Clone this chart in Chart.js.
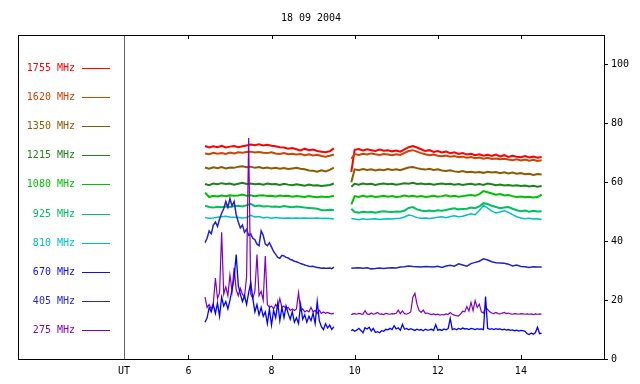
<!doctype html>
<html lang="en">
<head>
<meta charset="utf-8">
<style>
  * { margin: 0; padding: 0; }
  body { background: #fff; }
  .chartBox { width: 640px; height: 384px; }
</style>
</head>
<body>
<div class="chartBox"><canvas id="myChart" width="640" height="384"></canvas></div>
<script src="https://cdn.jsdelivr.net/npm/chart.js"></script>
<script>
  // time grids, UT hours
  const t1 = [6.4, 6.5, 6.6, 6.7, 6.8, 6.9, 7.0, 7.1, 7.2, 7.3,
    7.4, 7.5, 7.6, 7.7, 7.8, 7.9, 8.0, 8.1, 8.2, 8.3,
    8.4, 8.5, 8.6, 8.7, 8.8, 8.9, 9.0, 9.1, 9.2, 9.3,
    9.4, 9.5]
  const t1f = [6.40, 6.45, 6.50, 6.55, 6.60, 6.65, 6.70, 6.75, 6.80, 6.85,
    6.90, 6.95, 7.00, 7.05, 7.10, 7.15, 7.20, 7.25, 7.30, 7.35,
    7.40, 7.45, 7.50, 7.55, 7.60, 7.65, 7.70, 7.75, 7.80, 7.85,
    7.90, 7.95, 8.00, 8.05, 8.10, 8.15, 8.20, 8.25, 8.30, 8.35,
    8.40, 8.45, 8.50, 8.55, 8.60, 8.65, 8.70, 8.75, 8.80, 8.85,
    8.90, 8.95, 9.00, 9.05, 9.10, 9.15, 9.20, 9.25, 9.30, 9.35,
    9.40, 9.45, 9.50]
  const t2 = [9.92, 10.0, 10.1, 10.2, 10.3, 10.4, 10.5, 10.6, 10.7, 10.8,
    10.9, 11.0, 11.1, 11.2, 11.3, 11.4, 11.5, 11.6, 11.7, 11.8,
    11.9, 12.0, 12.1, 12.2, 12.3, 12.4, 12.5, 12.6, 12.7, 12.8,
    12.9, 13.0, 13.1, 13.2, 13.3, 13.4, 13.5, 13.6, 13.7, 13.8,
    13.9, 14.0, 14.1, 14.2, 14.3, 14.4, 14.5]
  const t2f = [9.92, 9.95, 10.00, 10.05, 10.10, 10.15, 10.20, 10.25, 10.30, 10.35,
    10.40, 10.45, 10.50, 10.55, 10.60, 10.65, 10.70, 10.75, 10.80, 10.85,
    10.90, 10.95, 11.00, 11.05, 11.10, 11.15, 11.20, 11.25, 11.30, 11.35,
    11.40, 11.45, 11.50, 11.55, 11.60, 11.65, 11.70, 11.75, 11.80, 11.85,
    11.90, 11.95, 12.00, 12.05, 12.10, 12.15, 12.20, 12.25, 12.30, 12.35,
    12.40, 12.45, 12.50, 12.55, 12.60, 12.65, 12.70, 12.75, 12.80, 12.85,
    12.90, 12.95, 13.00, 13.05, 13.10, 13.15, 13.20, 13.25, 13.30, 13.35,
    13.40, 13.45, 13.50, 13.55, 13.60, 13.65, 13.70, 13.75, 13.80, 13.85,
    13.90, 13.95, 14.00, 14.05, 14.10, 14.15, 14.20, 14.25, 14.30, 14.35,
    14.40, 14.45, 14.50]

  // flux values, first block (before 9.5 UT)
  const f1755a = [72.3, 71.8, 72.2, 71.9, 72.4, 71.8, 72.1, 72.3, 71.9, 72.2, 72.5, 72.8, 72.6, 72.9, 72.5, 72.7, 72.4, 72.2, 71.9, 71.8, 71.4, 71.6, 71.2, 70.8, 71.4, 70.9, 71.1, 70.6, 70.4, 70.2, 70.5, 71.5]
  const f1620a = [69.8, 69.5, 70.0, 69.7, 69.9, 69.6, 70.1, 69.8, 70.2, 70.0, 70.3, 70.4, 70.1, 70.3, 70.0, 69.9, 70.2, 69.8, 69.6, 69.9, 69.5, 69.7, 69.4, 69.6, 69.2, 69.5, 69.1, 69.3, 68.9, 68.7, 69.0, 69.4]
  const f1350a = [65.0, 64.6, 65.1, 64.8, 65.2, 64.7, 65.0, 64.9, 65.3, 65.4, 65.1, 65.3, 64.9, 65.2, 64.8, 65.0, 64.7, 64.9, 64.6, 64.8, 64.5, 64.7, 64.9, 64.6, 64.4, 64.0, 63.9, 63.6, 64.1, 63.7, 64.2, 65.0]
  const f1215a = [59.4, 59.0, 59.6, 59.3, 59.7, 59.4, 59.6, 59.2, 59.5, 59.8, 59.4, 59.6, 59.3, 59.5, 59.2, 59.6, 59.3, 59.4, 59.1, 59.5, 59.2, 59.0, 59.3, 59.1, 58.8, 59.2, 58.9, 59.0, 58.7, 58.9, 59.1, 59.6]
  const f1080a = [56.5, 55.0, 55.4, 55.2, 55.5, 55.3, 55.6, 55.4, 55.5, 55.8, 55.4, 55.6, 55.3, 55.5, 55.6, 55.3, 55.4, 55.2, 55.5, 55.3, 55.4, 55.1, 55.3, 55.2, 55.0, 55.3, 55.1, 54.9, 55.2, 55.0, 55.1, 55.4]
  const f925a = [52.0, 51.6, 51.4, 51.7, 51.5, 51.8, 51.6, 51.9, 52.0, 51.8, 52.2, 52.7, 51.9, 52.1, 51.8, 51.9, 51.7, 51.8, 51.6, 51.9, 51.7, 51.5, 51.8, 51.6, 51.4, 51.3, 51.2, 51.0, 50.6, 50.5, 50.7, 50.6]
  const f810a = [48.0, 47.8, 47.9, 48.1, 48.3, 48.5, 48.2, 48.1, 48.0, 47.9, 48.0, 48.8, 48.2, 48.4, 47.9, 48.1, 47.8, 48.0, 47.9, 47.8, 47.9, 47.8, 47.9, 47.8, 47.9, 47.8, 47.8, 47.9, 47.7, 47.8, 47.7, 47.5]
  const f670a = [12.5, 14.0, 17.5, 16.0, 18.5, 15.5, 19.0, 14.5, 21.0, 18.0,
    19.5, 17.0, 20.0, 23.5, 27.5, 35.5, 25.0, 22.0, 19.5, 21.5,
    18.5, 22.5, 26.0, 20.5, 16.0, 18.5, 15.0, 17.5, 14.5, 16.0,
    12.0, 17.0, 11.5, 16.5, 14.0, 19.0, 13.0, 17.5, 14.0, 18.0,
    15.5, 13.5, 16.0, 12.5, 14.0, 12.0, 18.5, 13.5, 15.0, 12.5,
    14.5, 13.0, 15.5, 12.0, 19.5, 13.0, 11.0, 10.0, 12.0, 10.5,
    11.5, 10.0, 11.0]
  const f405a = [39.5, 41.0, 43.5, 42.5, 45.5, 46.5, 45.0, 47.5, 49.5, 51.0,
    53.5, 51.5, 54.5, 52.0, 53.5, 49.0, 46.5, 44.5, 45.5, 43.0,
    44.0, 42.0, 42.5, 41.0, 40.5, 39.0, 38.5, 43.5, 42.0, 39.0,
    38.5, 39.5, 38.0, 36.5, 35.5, 34.5, 34.2, 35.2, 35.0, 34.5,
    34.3, 33.8, 33.6, 33.2, 33.0, 32.7, 32.4, 32.2, 31.9, 31.7,
    31.5, 31.4, 31.5, 31.2, 31.1, 31.0, 30.8, 30.9, 30.8, 30.8,
    30.9, 30.7, 31.2]
  const f275a = [21.0, 17.5, 18.5, 17.0, 19.0, 27.5, 20.5, 22.5, 43.0, 22.0,
    24.5, 21.5, 28.5, 23.0, 31.0, 23.5, 21.5, 24.0, 22.0, 21.0,
    28.0, 75.0, 22.0, 20.5, 23.0, 35.5, 21.5, 23.0, 20.0, 35.0,
    18.5, 17.5, 18.0, 17.0, 18.5, 17.5, 20.5, 17.5, 18.0, 17.0,
    17.5, 16.5, 17.0, 16.5, 17.0, 22.5, 16.5, 17.0, 16.0, 16.5,
    16.0, 17.5, 16.0, 16.5, 15.5, 16.5, 15.5, 16.0, 15.5, 15.8,
    15.5, 15.3, 15.5]

  // flux values, second block (after 9.9 UT)
  const f1755b = [63.5, 71.0, 71.3, 70.8, 71.2, 70.9, 70.6, 71.1, 70.7, 70.9, 70.5, 70.8, 70.4, 71.2, 71.9, 72.3, 71.8, 71.2, 70.6, 70.9, 70.3, 70.6, 70.1, 70.4, 69.9, 70.2, 69.6, 69.9, 69.4, 69.7, 69.2, 69.5, 69.0, 69.3, 68.9, 69.4, 68.8, 69.2, 68.6, 69.0, 68.7, 68.5, 68.9, 68.4, 68.7, 68.3, 68.6]
  const f1620b = [68.0, 69.6, 69.3, 69.7, 69.4, 69.8, 69.5, 69.3, 69.6, 69.4, 69.2, 69.5, 69.3, 70.0, 70.6, 70.9, 70.4, 69.9, 69.5, 69.2, 69.4, 69.0, 68.8, 69.1, 68.7, 68.9, 68.5, 68.7, 68.3, 68.6, 68.2, 68.4, 68.0, 68.3, 67.9, 68.1, 67.8, 68.0, 67.7, 67.5, 67.8, 67.4, 67.7, 67.3, 67.6, 67.2, 67.5]
  const f1350b = [60.0, 64.4, 64.1, 64.5, 64.2, 64.4, 64.0, 64.3, 64.1, 64.5, 64.2, 64.4, 64.1, 64.6, 65.0, 65.2, 64.8, 64.5, 64.3, 64.6, 64.2, 64.4, 64.0, 63.8, 64.1, 63.7, 63.5, 63.8, 63.4, 63.6, 63.3, 63.5, 63.2, 63.6, 63.3, 63.5, 63.1, 63.4, 63.0, 63.3, 62.9, 63.1, 62.7, 62.9, 62.5, 62.8, 62.6]
  const f1215b = [58.5, 59.5, 59.2, 59.6, 59.3, 59.5, 59.1, 59.4, 59.6, 59.3, 59.5, 59.2, 59.4, 59.7, 59.5, 59.8, 59.4, 59.6, 59.3, 59.5, 59.2, 59.4, 59.6, 59.3, 59.5, 59.2, 59.4, 59.1, 59.3, 59.5, 59.2, 59.4, 59.1, 59.6, 59.3, 59.0, 59.2, 58.9, 59.1, 58.8, 59.0, 58.7, 58.9, 58.6, 58.8, 58.5, 58.7]
  const f1080b = [52.5, 55.3, 55.0, 55.4, 55.1, 55.3, 55.0, 55.2, 55.4, 55.1, 55.3, 55.0, 55.2, 55.5, 55.2, 55.4, 55.1, 55.3, 55.0, 55.2, 55.4, 55.1, 55.3, 55.6, 55.2, 55.4, 55.1, 55.3, 55.5, 55.7, 55.4, 56.0, 57.0, 56.6, 56.2, 55.8, 56.0, 55.5, 55.7, 55.3, 55.0, 55.2, 54.9, 55.1, 54.8, 55.0, 55.8]
  const f925b = [51.0, 49.9, 49.7, 50.0, 49.8, 49.9, 49.7, 50.0, 50.2, 50.0, 49.9, 50.1, 50.0, 50.4, 51.3, 51.6, 50.8, 50.4, 50.2, 50.4, 50.2, 50.5, 50.3, 50.6, 50.9, 51.2, 50.8, 50.9, 51.0, 51.4, 51.2, 51.8, 52.9, 52.6, 52.0, 51.6, 51.2, 51.4, 51.6, 51.0, 50.5, 50.2, 50.4, 50.0, 50.3, 50.1, 50.2]
  const f810b = [47.7, 47.5, 47.3, 47.6, 47.4, 47.5, 47.6, 47.4, 47.5, 47.6, 47.5, 47.7, 47.8, 48.2, 48.9, 48.6, 48.0, 47.8, 47.9, 47.7, 47.9, 48.1, 48.3, 48.0, 48.4, 48.6, 48.3, 48.5, 48.9, 49.3, 49.0, 50.4, 52.2, 51.2, 50.2, 49.6, 49.9, 50.3, 49.8, 49.0, 48.3, 47.9, 47.6, 47.8, 47.5, 47.6, 47.4]
  const f405b = [30.8, 30.9, 31.0, 30.8, 31.0, 30.6, 30.7, 30.9, 30.7, 30.9, 31.0, 30.9, 31.2, 31.3, 31.6, 31.4, 31.3, 31.2, 31.4, 31.3, 31.2, 31.5, 31.1, 31.6, 31.8, 31.5, 32.3, 31.9, 31.5, 32.4, 32.8, 33.2, 34.0, 33.6, 33.0, 32.7, 32.6, 32.5, 32.2, 31.6, 31.9, 31.4, 31.3, 31.1, 31.3, 31.2, 31.2]
  const f670b = [9.6, 10.0, 9.4, 9.8, 10.4, 9.7, 8.9, 10.6, 10.2, 10.8,
    9.5, 10.4, 9.0, 9.3, 8.9, 9.6, 9.4, 10.1, 9.9, 10.4,
    10.0, 11.3, 10.2, 10.6, 9.8, 11.8, 10.1, 10.4, 9.9, 10.3,
    10.0, 9.7, 10.1, 9.8, 10.0, 9.6, 10.1, 9.8, 9.9, 10.1,
    9.7, 11.7, 9.8, 10.0, 9.7, 10.2, 9.9, 10.3, 13.8, 10.0,
    10.3, 9.9, 10.4, 10.1, 10.5, 10.2, 10.3, 10.0, 10.4, 10.2,
    10.0, 10.3, 10.1, 10.2, 10.0, 21.2, 10.4, 10.1, 10.3, 10.0,
    10.3, 10.1, 10.2, 9.9, 10.1, 9.8, 10.0, 9.7, 9.9, 9.6,
    9.8, 9.5, 9.7, 9.6, 9.4, 8.6, 8.3, 8.8, 8.4, 9.0,
    10.8, 8.6, 8.8]
  const f275b = [15.0, 15.3, 15.4, 15.2, 15.5, 15.3, 15.2, 16.4, 15.3, 15.1,
    15.6, 15.2, 15.4, 15.8, 15.2, 15.3, 15.1, 15.5, 15.3, 15.2,
    15.4, 15.3, 15.5, 16.6, 15.4, 16.3, 15.4, 15.2, 15.5, 16.0,
    21.0, 22.3, 18.6, 16.5, 15.8, 16.6, 15.5, 15.6, 15.3, 15.1,
    15.3, 15.0, 15.2, 14.9, 15.1, 15.0, 15.3, 15.1, 15.8, 15.2,
    14.9, 14.7, 14.6, 15.3, 16.2, 16.0, 17.8, 16.3, 19.2, 16.4,
    19.8, 17.5, 18.6, 16.0, 15.6, 17.6, 16.8, 16.0, 15.6, 15.4,
    15.8, 15.4, 15.3, 15.6, 15.8, 15.4, 15.6, 15.3, 15.2, 15.4,
    15.3, 15.2, 15.4, 15.3, 15.2, 15.3, 15.2, 15.3, 15.1, 15.3,
    15.2, 15.3, 15.2]

  const xTicks = [6, 8, 10, 12, 14]
  const yTicks = [0, 20, 40, 60, 80, 100]
  const utMark = 4.45
  const title = '18 09 2004'

  // legend order, top to bottom
  const series = [
    { label: '1755 MHz', color: '#ff0000', key: '#ff0000', a: f1755a, ta: t1, b: f1755b, tb: t2, w: 2, z: 10 },
    { label: '1620 MHz', color: '#cc4400', key: '#cc4400', a: f1620a, ta: t1, b: f1620b, tb: t2, w: 2, z: 9 },
    { label: '1350 MHz', color: '#8c5a00', key: '#8c5a00', a: f1350a, ta: t1, b: f1350b, tb: t2, w: 2, z: 8 },
    { label: '1215 MHz', color: '#208020', key: '#208020', a: f1215a, ta: t1, b: f1215b, tb: t2, w: 2, z: 7 },
    { label: '1080 MHz', color: '#00c000', key: '#00c000', a: f1080a, ta: t1, b: f1080b, tb: t2, w: 2, z: 6 },
    { label: '925 MHz', color: '#00c060', key: '#00c060', a: f925a, ta: t1, b: f925b, tb: t2, w: 2, z: 5 },
    { label: '810 MHz', color: '#00c0c0', key: '#00c0c0', a: f810a, ta: t1, b: f810b, tb: t2, w: 1.5, z: 4 },
    { label: '670 MHz', color: '#0000ff', key: '#1010e8', a: f670a, ta: t1f, b: f670b, tb: t2f, w: 1.3, z: 1 },
    { label: '405 MHz', color: '#2222c0', key: '#2828c0', a: f405a, ta: t1f, b: f405b, tb: t2, w: 1.5, z: 3 },
    { label: '275 MHz', color: '#8000c0', key: '#8000c0', a: f275a, ta: t1f, b: f275b, tb: t2f, w: 1.2, z: 2 }
  ]

  function pts(ts, vs) {
    return vs.map((v, i) => ({ x: ts[i], y: v })).filter(p => p.x !== undefined)
  }

  const datasets = series.map(s => ({
    label: s.label,
    data: pts(s.ta, s.a).concat([{ x: 9.7, y: null }], pts(s.tb, s.b)),
    borderColor: s.color,
    borderWidth: s.w,
    pointRadius: 0,
    fill: false,
    tension: 0,
    spanGaps: false,
    order: s.z
  }))

  const FONT = '10px "DejaVu Sans Mono", monospace'

  const frame = {
    id: 'frame',
    afterDraw(chart) {
      const { ctx, chartArea: a, scales: { x } } = chart
      ctx.save()
      // UT line
      const ux = Math.round(x.getPixelForValue(utMark)) + 0.5
      ctx.strokeStyle = '#666666'
      ctx.lineWidth = 1
      ctx.beginPath()
      ctx.moveTo(ux, a.top)
      ctx.lineTo(ux, a.bottom)
      ctx.stroke()
      // box
      ctx.strokeStyle = '#000'
      ctx.strokeRect(Math.round(a.left) + 0.5, Math.round(a.top) + 0.5,
        Math.round(a.right - a.left), Math.round(a.bottom - a.top))
      // inward ticks on top and bottom
      ctx.beginPath()
      xTicks.forEach(v => {
        const px = Math.round(x.getPixelForValue(v)) + 0.5
        ctx.moveTo(px, a.bottom)
        ctx.lineTo(px, a.bottom - 4)
        ctx.moveTo(px, a.top)
        ctx.lineTo(px, a.top + 4)
      })
      ctx.stroke()
      // title
      ctx.font = FONT
      ctx.fillStyle = '#000'
      ctx.textAlign = 'center'
      ctx.textBaseline = 'middle'
      ctx.fillText(title, (a.left + a.right) / 2, 18)
      // key
      ctx.textAlign = 'right'
      series.forEach((s, i) => {
        const ry = 67.5 + i * 29.2
        const yy = Math.round(ry) + 0.5
        ctx.fillStyle = s.key
        ctx.fillText(s.label, 75, yy)
        ctx.strokeStyle = s.key
        ctx.beginPath()
        ctx.moveTo(82, yy)
        ctx.lineTo(110, yy)
        ctx.stroke()
      })
      ctx.restore()
    }
  }

  const config = {
    type: 'line',
    data: { datasets },
    options: {
      responsive: false,
      animation: false,
      devicePixelRatio: 1,
      layout: { padding: { left: 18, top: 35, right: 0, bottom: 0 } },
      plugins: { legend: { display: false }, tooltip: { enabled: false }, title: { display: false } },
      scales: {
        x: {
          type: 'linear',
          min: 1.9,
          max: 16,
          afterBuildTicks: s => { s.ticks = [utMark].concat(xTicks).map(v => ({ value: v })) },
          afterFit: s => { s.height = 25 },
          grid: { display: false, drawTicks: false },
          border: { display: false },
          ticks: {
            padding: 6,
            color: '#000',
            font: { family: '"DejaVu Sans Mono", monospace', size: 10 },
            maxRotation: 0,
            autoSkip: false,
            callback: v => v === utMark ? 'UT' : String(v)
          }
        },
        y: {
          position: 'right',
          min: 0,
          max: 110,
          afterBuildTicks: s => { s.ticks = yTicks.map(v => ({ value: v })) },
          afterFit: s => { s.width = 36 },
          grid: { drawOnChartArea: false, drawTicks: true, tickLength: 4, color: '#000' },
          border: { display: false },
          ticks: {
            padding: 3,
            color: '#000',
            font: { family: '"DejaVu Sans Mono", monospace', size: 10 }
          }
        }
      }
    },
    plugins: [frame]
  }

  const myChart = new Chart(document.getElementById('myChart'), config)
</script>
</body>
</html>
